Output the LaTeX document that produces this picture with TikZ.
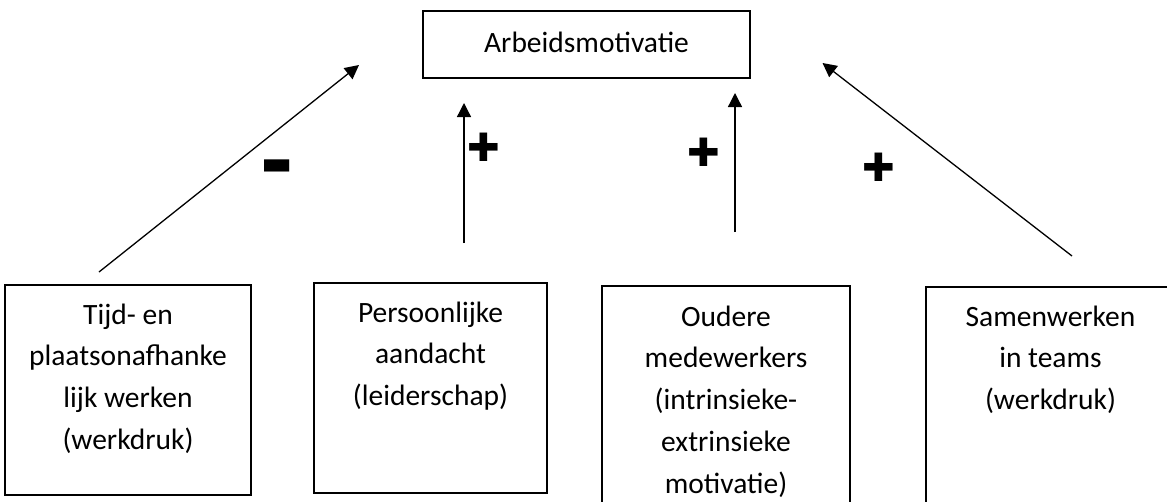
\documentclass[tikz,border=0pt]{standalone}
\usepackage{fontspec}
\setmainfont{Carlito}
\newfontfamily\signfont{DejaVu Sans}
\usetikzlibrary{arrows.meta}
\begin{document}
\begin{tikzpicture}[x=1pt,y=-1pt,
  box/.style={draw, line width=1.6pt, inner sep=0pt},
  boxtext/.style={anchor=north, inner sep=0pt, align=center, font=\fontsize{29.5}{41.7}\selectfont},
  arr/.style={line width=1.3pt, -{Triangle[length=14pt,width=14pt]}},
  sign/.style={inner sep=0pt, font=\signfont\fontsize{39}{39}\selectfont},
  minussign/.style={inner sep=0pt, font=\signfont\fontsize{33}{33}\selectfont}]
\useasboundingbox (0,0) rectangle (1167,501);
\clip (0,0) rectangle (1167,501);
% top box
\node[box, minimum width=327pt, minimum height=67pt, text height=22pt, text depth=7pt,
      font=\fontsize{29.5}{41.7}\selectfont] (top) at (586.5,44.5) {Arbeidsmotivatie};
% lower boxes
\node[box, minimum width=246pt, minimum height=210pt] (b1) at (128,390) {};
\node[box, minimum width=233pt, minimum height=210pt] (b2) at (430.5,388) {};
\node[box, minimum width=248pt, minimum height=244pt] (b3) at (726,408) {};
\node[box, minimum width=249pt, minimum height=243pt] (b4) at (1050.5,408.5) {};
% texts
\node[boxtext] (t1) at (128,300) {\rule{0pt}{24pt}Tijd- en\\plaatsonafhanke\\lijk werken\\(werkdruk)};
\node[boxtext] (t2) at (430.5,298) {\rule{0pt}{24pt}Persoonlijke\\aandacht\\(leiderschap)};
\node[boxtext] (t3) at (726,302) {\rule{0pt}{24pt}Oudere\\medewerkers\\(intrinsieke-\\extrinsieke\\motivatie)};
\node[boxtext] (t4) at (1050.5,302) {\rule{0pt}{24pt}Samenwerken\\in teams\\(werkdruk)};
% arrows
\coordinate (s1) at (99,272);   \coordinate (e1) at (359,65);
\coordinate (s2) at (464,243);  \coordinate (e2) at (464,103);
\coordinate (s3) at (735,232);  \coordinate (e3) at (735,93);
\coordinate (s4) at (1072,256); \coordinate (e4) at (822.5,63);
\draw[arr] (s1) -- (e1);
\draw[arr] (s2) -- (e2);
\draw[arr] (s3) -- (e3);
\draw[arr] (s4) -- (e4);
% signs
\node[minussign] (m1) at (277,167.5) {▬};
\node[sign] (p1) at (483.5,147.5) {✚};
\node[sign] (p2) at (704,152) {✚};
\node[sign] (p3) at (878.5,167.5) {✚};
\end{tikzpicture}
\end{document}
